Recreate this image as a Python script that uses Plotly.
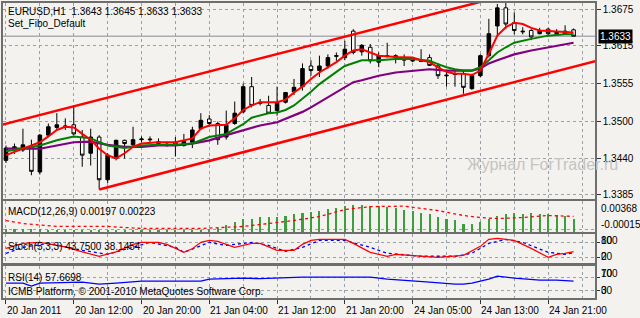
import plotly.graph_objects as go

# ---------------- data ----------------
bars = list(range(68))
opens = [1.3441, 1.3457, 1.3457, 1.3462, 1.3423, 1.3480, 1.3492, 1.3493, 1.3496, 1.3477,
         1.3452, 1.3477, 1.3411, 1.3444, 1.3472, 1.3465, 1.3473, 1.3474, 1.3470, 1.3466,
         1.3469, 1.3464, 1.3469, 1.3490, 1.3505, 1.3498, 1.3477, 1.3498, 1.3516, 1.3555,
         1.3529, 1.3526, 1.3518, 1.3531, 1.3547, 1.3555, 1.3587, 1.3580, 1.3587, 1.3602,
         1.3600, 1.3641, 1.3609, 1.3616, 1.3593, 1.3603, 1.3603, 1.3600, 1.3596, 1.3595,
         1.3600, 1.3587, 1.3573, 1.3575, 1.3575, 1.3552, 1.3572, 1.3603, 1.3649, 1.3677,
         1.3654, 1.3641, 1.3642, 1.3637, 1.3644, 1.3637, 1.3637, 1.3643]
highs = [1.3464, 1.3467, 1.3490, 1.3473, 1.3482, 1.3498, 1.3514, 1.3506, 1.3526, 1.3488,
         1.3490, 1.3480, 1.3452, 1.3473, 1.3473, 1.3493, 1.3478, 1.3478, 1.3475, 1.3470,
         1.3477, 1.3482, 1.3493, 1.3514, 1.3511, 1.3501, 1.3518, 1.3532, 1.3560, 1.3570,
         1.3536, 1.3541, 1.3555, 1.3547, 1.3567, 1.3591, 1.3596, 1.3603, 1.3605, 1.3608,
         1.3626, 1.3644, 1.3621, 1.3621, 1.3608, 1.3623, 1.3605, 1.3605, 1.3600, 1.3613,
         1.3605, 1.3591, 1.3578, 1.3580, 1.3580, 1.3575, 1.3605, 1.3660, 1.3683, 1.3685,
         1.3670, 1.3647, 1.3644, 1.3646, 1.3646, 1.3644, 1.3650, 1.3645]
lows = [1.3437, 1.3451, 1.3454, 1.3418, 1.3419, 1.3477, 1.3488, 1.3488, 1.3480, 1.3431,
        1.3433, 1.3396, 1.3406, 1.3441, 1.3444, 1.3460, 1.3469, 1.3467, 1.3464, 1.3462,
        1.3447, 1.3462, 1.3460, 1.3488, 1.3493, 1.3465, 1.3473, 1.3496, 1.3514, 1.3523,
        1.3526, 1.3513, 1.3510, 1.3529, 1.3542, 1.3549, 1.3572, 1.3570, 1.3583, 1.3595,
        1.3596, 1.3605, 1.3603, 1.3591, 1.3585, 1.3600, 1.3591, 1.3587, 1.3593, 1.3593,
        1.3587, 1.3567, 1.3555, 1.3555, 1.3544, 1.3550, 1.3570, 1.3600, 1.3632, 1.3644,
        1.3636, 1.3636, 1.3627, 1.3636, 1.3634, 1.3636, 1.3636, 1.3633]
closes = [1.3460, 1.3462, 1.3465, 1.3424, 1.3480, 1.3493, 1.3496, 1.3494, 1.3482, 1.3449,
          1.3477, 1.3411, 1.3449, 1.3472, 1.3467, 1.3473, 1.3474, 1.3473, 1.3467, 1.3465,
          1.3465, 1.3470, 1.3488, 1.3503, 1.3498, 1.3473, 1.3496, 1.3514, 1.3555, 1.3526,
          1.3531, 1.3514, 1.3531, 1.3546, 1.3554, 1.3583, 1.3580, 1.3587, 1.3600, 1.3603,
          1.3613, 1.3608, 1.3619, 1.3595, 1.3603, 1.3602, 1.3600, 1.3596, 1.3595, 1.3594,
          1.3588, 1.3572, 1.3572, 1.3574, 1.3554, 1.3572, 1.3603, 1.3637, 1.3677, 1.3652,
          1.3642, 1.3640, 1.3632, 1.3642, 1.3637, 1.3639, 1.3641, 1.3633]

ma_red_x = [0, 2, 4, 5, 6, 7, 8, 9, 10, 11, 12, 13, 14, 15, 16, 18, 20, 22, 23, 24, 25, 26, 27, 28, 29, 30,
            31, 32, 33, 34, 35, 36, 37, 38, 39, 40, 41, 42, 43, 44, 46, 48, 49, 50, 51, 52, 53, 54, 55, 56,
            57, 58, 59, 60, 61, 62, 63, 64, 66, 67]
ma_red_y = [1.3449, 1.3459, 1.3469, 1.3478, 1.3488, 1.3493, 1.3492, 1.3482, 1.3473, 1.3459, 1.3449, 1.3444,
            1.3452, 1.3462, 1.3467, 1.3469, 1.3469, 1.3475, 1.3490, 1.3495, 1.3495, 1.3496, 1.3506, 1.3519,
            1.3526, 1.3531, 1.3531, 1.3531, 1.3535, 1.3546, 1.3555, 1.3567, 1.3577, 1.3585, 1.3593, 1.3603,
            1.3611, 1.3613, 1.3608, 1.3603, 1.3601, 1.3600, 1.3596, 1.3593, 1.3585, 1.3578, 1.3575, 1.3575,
            1.3573, 1.3580, 1.3606, 1.3634, 1.3647, 1.3654, 1.3652, 1.3646, 1.3642, 1.3641, 1.3639, 1.3639]

ma_green_x = [0, 2, 4, 6, 8, 10, 12, 14, 16, 18, 20, 22, 24, 26, 27, 28, 29, 30, 31, 32, 33, 34, 35, 36, 37,
              38, 39, 40, 41, 42, 44, 46, 48, 50, 51, 52, 53, 54, 55, 56, 57, 58, 59, 60, 62, 64, 66, 67]
ma_green_y = [1.3455, 1.3459, 1.3464, 1.3472, 1.3478, 1.3475, 1.3464, 1.3460, 1.3464, 1.3465, 1.3465,
              1.3467, 1.3477, 1.3482, 1.3490, 1.3497, 1.3507, 1.3510, 1.3514, 1.3515, 1.3519, 1.3526,
              1.3536, 1.3547, 1.3559, 1.3569, 1.3578, 1.3587, 1.3591, 1.3596, 1.3596, 1.3598, 1.3598,
              1.3595, 1.3590, 1.3585, 1.3582, 1.3580, 1.3580, 1.3585, 1.3596, 1.3608, 1.3616, 1.3623,
              1.3629, 1.3634, 1.3636, 1.3636]

ma_purple_x = [0, 4, 6, 8, 10, 12, 14, 16, 18, 20, 22, 24, 26, 28, 30, 32, 33, 34, 35, 36, 37, 38, 40, 41,
               42, 44, 46, 48, 50, 52, 54, 55, 56, 57, 58, 60, 62, 64, 66, 67]
ma_purple_y = [1.3459, 1.3459, 1.3464, 1.3469, 1.3470, 1.3465, 1.3462, 1.3462, 1.3464, 1.3464, 1.3467,
               1.3472, 1.3480, 1.3488, 1.3495, 1.3500, 1.3505, 1.3511, 1.3516, 1.3523, 1.3531, 1.3539,
               1.3554, 1.3562, 1.3565, 1.3572, 1.3577, 1.3580, 1.3582, 1.3580, 1.3580, 1.3580, 1.3583,
               1.3591, 1.3596, 1.3605, 1.3611, 1.3616, 1.3621, 1.3623]

channel_upper_x = [-0.5, 58]
channel_upper_y = [1.3496, 1.3693]
channel_lower_x = [11, 70]
channel_lower_y = [1.3396, 1.3596]

macd_main = [0.00044, 0.00044, 0.00044, 0.00044, 0.00044, 0.00029, 0.00029, 0.00029, 0.00029, 0.00029,
             0.00029, 0.00029, 0.00029, 0.00029, 0.00029, 0.00015, 0.00015, 0.00015, 0.00015, 0.00015,
             0.00029, 0.00029, 0.00029, 0.00029, 0.00044, 0.00059, 0.00103, 0.00147, 0.00191, 0.00191,
             0.00221, 0.00221, 0.00221, 0.00236, 0.00265, 0.00280, 0.00294, 0.00309, 0.00339, 0.00353,
             0.00383, 0.00397, 0.00397, 0.00383, 0.00383, 0.00368, 0.00353, 0.00324, 0.00309, 0.00280,
             0.00265, 0.00221, 0.00191, 0.00177, 0.00118, 0.00118, 0.00147, 0.00191, 0.00236, 0.00265,
             0.00280, 0.00265, 0.00280, 0.00265, 0.00265, 0.00250, 0.00236, 0.00197]
macd_signal_x = [0, 2, 6, 12, 16, 23, 28, 31, 34, 37, 40, 43, 47, 51, 54, 56, 58, 61, 64, 67]
macd_signal_y = [0.00162, 0.00118, 0.00074, 0.00074, 0.00044, 0.00044, 0.00074, 0.00118, 0.00162, 0.00221,
                 0.00324, 0.00368, 0.00375, 0.00309, 0.00236, 0.00206, 0.00191, 0.00206, 0.00236, 0.00223]

stoch_main_x = [0, 2, 4, 7, 9, 11, 13, 15, 16, 18, 19, 21, 22, 23, 24, 25, 27, 29, 30, 32, 34, 35, 36, 37,
                40, 41, 43, 45, 46, 49, 51, 54, 56, 57, 58, 60, 62, 64, 65, 66, 67]
stoch_main_y = [57.2, 77.9, 82.1, 63.5, 42.8, 24.2, 42.8, 73.8, 82.1, 82.1, 73.8, 40.7, 55.2, 82.1, 90.3,
                86.2, 61.4, 77.9, 77.9, 49.0, 49.0, 73.8, 90.3, 94.5, 94.5, 77.9, 40.7, 24.2, 32.4, 24.2,
                20.0, 28.3, 65.5, 94.5, 98.6, 90.3, 57.2, 20.0, 32.4, 36.6, 43.75]
stoch_signal_x = [0, 2, 5, 9, 12, 15, 17, 20, 21, 24, 26, 29, 31, 33, 35, 37, 40, 43, 45, 49, 53, 55, 57,
                  59, 61, 64, 66, 67]
stoch_signal_y = [36.6, 61.4, 77.9, 49.0, 32.4, 61.4, 82.1, 61.4, 40.7, 82.1, 69.7, 82.1, 69.7, 44.8, 61.4,
                  90.3, 90.3, 61.4, 36.6, 24.2, 24.2, 36.6, 77.9, 94.5, 82.1, 40.7, 32.4, 38.1454]

rsi_x = [0, 2, 3, 4, 9, 11, 13, 16, 23, 24, 28, 30, 35, 43, 45, 47, 50, 53, 54, 55, 57, 58, 60, 63, 65, 67]
rsi_y = [51.5, 51.5, 42.3, 51.5, 54.6, 48.5, 51.5, 57.7, 57.7, 63.8, 66.9, 65.4, 70.0, 70.0, 63.8, 60.8,
         54.6, 48.5, 48.5, 51.5, 63.8, 73.1, 66.9, 60.8, 60.8, 57.6698]

price_tickvals = [1.3675, 1.3618, 1.3560, 1.3501, 1.3444, 1.3388]
price_ticktext = ['1.3675', '1.3615', '1.3555', '1.3500', '1.3440', '1.3385']
time_tick_bars = [0, 8, 16, 24, 32, 40, 48, 56, 64]
time_tick_text = ['20 Jan 2011', '20 Jan 12:00', '20 Jan 20:00', '21 Jan 04:00', '21 Jan 12:00',
                  '21 Jan 20:00', '24 Jan 05:00', '24 Jan 13:00', '24 Jan 21:00']
grid_bars = list(range(0, 72, 4))

# ---------------- style ----------------
BG = '#F4F2EF'
GRID = '#98A0A8'
FRAME = '#6E6E6E'
FONT = 'Liberation Sans'


def py(ypx):  # pixel row -> paper y (plot area rows 1..298)
    return (298 - ypx) / 297.0


fig = go.Figure()

fig.add_trace(go.Candlestick(
    x=bars, open=opens, high=highs, low=lows, close=closes,
    increasing=dict(line=dict(color='#000000', width=1), fillcolor='#000000'),
    decreasing=dict(line=dict(color='#000000', width=1), fillcolor='#FFFFFF'),
    whiskerwidth=0, hoverinfo='skip', xaxis='x', yaxis='y'))

for xs, ys, col, w in [(ma_purple_x, ma_purple_y, '#800080', 2.2),
                       (ma_green_x, ma_green_y, '#008000', 2),
                       (ma_red_x, ma_red_y, '#FF0000', 2),
                       (channel_upper_x, channel_upper_y, '#FF0000', 2.5),
                       (channel_lower_x, channel_lower_y, '#FF0000', 2.5)]:
    fig.add_trace(go.Scatter(x=xs, y=ys, mode='lines', line=dict(color=col, width=w),
                             hoverinfo='skip', xaxis='x', yaxis='y'))

fig.add_trace(go.Bar(x=bars, y=macd_main, width=0.25, marker=dict(color='#3E9E3E', line=dict(width=0)),
                     hoverinfo='skip', xaxis='x2', yaxis='y2'))
fig.add_trace(go.Scatter(x=macd_signal_x, y=macd_signal_y, mode='lines',
                         line=dict(color='#FF0000', width=1.3, dash='3px,3px'),
                         hoverinfo='skip', xaxis='x2', yaxis='y2'))

fig.add_trace(go.Scatter(x=stoch_signal_x, y=stoch_signal_y, mode='lines',
                         line=dict(color='#0000FF', width=1.3, dash='3px,3px'),
                         hoverinfo='skip', xaxis='x3', yaxis='y3'))
fig.add_trace(go.Scatter(x=stoch_main_x, y=stoch_main_y, mode='lines',
                         line=dict(color='#FF0000', width=1.2),
                         hoverinfo='skip', xaxis='x3', yaxis='y3'))

fig.add_trace(go.Scatter(x=rsi_x, y=rsi_y, mode='lines', line=dict(color='#0000FF', width=1.4),
                         hoverinfo='skip', xaxis='x4', yaxis='y4'))

xr = [-0.353, 69.53]


def xaxis(anchor, bottom=False):
    d = dict(range=xr, anchor=anchor, domain=[0, 1], showline=True, mirror=True,
             linecolor=FRAME, linewidth=1.5, zeroline=False, fixedrange=True,
             tickvals=time_tick_bars, showticklabels=False,
             ticks='outside' if bottom else '', ticklen=4, tickcolor='#333333',
             showgrid=True, gridcolor=GRID, griddash='3px,3px', gridwidth=1,
             minor=dict(tickvals=grid_bars, showgrid=True, gridcolor=GRID,
                        griddash='3px,3px', gridwidth=1, ticks=''))
    if anchor != 'y':
        d['matches'] = 'x'
    return d


def yaxis(dom, rng, tv, anchor):
    return dict(domain=dom, range=rng, anchor=anchor, side='right', showline=True, mirror=True,
                linecolor=FRAME, linewidth=1.5, zeroline=False, fixedrange=True,
                tickvals=tv, showticklabels=False, ticks='outside', ticklen=3, tickcolor='#333333',
                showgrid=True, gridcolor=GRID, griddash='3px,3px', gridwidth=1)


main_y = yaxis([py(198), 1.0], [1.33817, 1.36845], price_tickvals, 'x')
main_y.update(ticktext=price_ticktext, showticklabels=True, ticklen=4,
              tickfont=dict(family=FONT, size=10, color='#000000'))
macd_y = yaxis([py(232), py(200)], [-0.000147, 0.004563], [0.0003], 'x2')
macd_y.update(ticks='')
stoch_y = yaxis([py(263), py(234)], [-4.8, 115.2], [20, 80], 'x3')
rsi_y_ax = yaxis([py(298), py(266)], [5.4, 103.8], [30, 70], 'x4')

ann = []


def text(x, y, s, size=10, color='#000000', xref='paper', yref='paper', anchor='left', **kw):
    ann.append(dict(x=x, y=y, xref=xref, yref=yref, text=s, showarrow=False, xanchor=anchor,
                    yanchor='middle', font=dict(family=FONT, size=size, color=color), **kw))


text(0.005, py(9.5), 'EURUSD,H1\u00a0\u00a0%.4f %.4f %.4f %.4f' % (opens[-1], highs[-1], lows[-1], closes[-1]))
text(0.005, py(22), 'Set_Fibo_Default')
text(0.005, py(211), 'MACD(12,26,9) %.5f %.5f' % (macd_main[-1], macd_signal_y[-1]))
text(0.005, py(246), 'Stoch(5,3,3) %.4f %.4f' % (stoch_main_y[-1], stoch_signal_y[-1]))
text(0.005, py(277), 'RSI(14) %.4f' % rsi_y[-1])
text(0.005, py(291), 'ICMB Platform, \u00a9 2001-2010 MetaQuotes Software Corp.')
text((465 - 1) / 594.0, py(164), '\u0416\u0443\u0440\u043d\u0430\u043b ForTrader.ru', size=16, color='#C4C4C4')

# right-side labels of the indicator windows
rx = (599 - 1) / 594.0
text(rx, py(208), '0.00368')
text(rx, py(224), '-0.00015')
text(rx, py(240), '100')
text(rx, py(240), '80')
text(rx, py(256.5), '20')
text(rx, py(256.5), '0')
text(rx, py(273.5), '100')
text(rx, py(273.5), '70')
text(rx, py(290), '30')
text(rx, py(290), '0')

# current price tag
ann.append(dict(x=(598 - 1) / 594.0, y=closes[-1], xref='paper', yref='y', text='%.4f' % closes[-1],
                showarrow=False, xanchor='left', yanchor='middle', bgcolor='#000000', borderpad=1,
                font=dict(family=FONT, size=10, color='#FFFFFF')))

for b, s in zip(time_tick_bars, time_tick_text):
    text(b, py(311), s, xref='x4', xshift=-1)

fig.update_layout(
    width=640, height=318, margin=dict(l=1, r=45, t=1, b=20),
    paper_bgcolor=BG, plot_bgcolor=BG, showlegend=False, boxgap=0.4, bargap=0,
    xaxis=dict(xaxis('y'), rangeslider=dict(visible=False)),
    xaxis2=xaxis('y2'), xaxis3=xaxis('y3'), xaxis4=xaxis('y4', bottom=True),
    yaxis=main_y, yaxis2=macd_y, yaxis3=stoch_y, yaxis4=rsi_y_ax,
    annotations=ann,
    shapes=[dict(type='line', xref='x domain', yref='y', x0=0, x1=1, y0=closes[-1], y1=closes[-1],
                 line=dict(color='#A9ADB2', width=1.5), layer='below')],
)

fig.write_html('out.html')
